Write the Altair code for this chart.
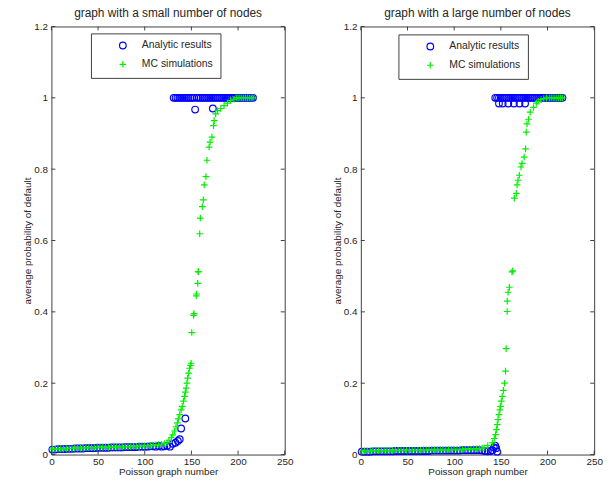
import altair as alt
import pandas as pd

# ---------------- data ----------------
SERIES = ["Analytic results", "MC simulations"]

# graph with a small number of nodes
SMALL_ANALYTIC_X = [1, 4, 7, 10, 13, 16, 19, 22, 25, 28, 31, 34, 37, 40, 43, 46, 49, 52, 55, 58,
                    61, 64, 67, 70, 73, 76, 79, 82, 85, 88, 91, 94, 97, 100, 103, 106, 109, 112, 115, 118,
                    121, 124,
                    127, 130, 133, 135.5, 137.5, 139, 143.5,
                    131, 133, 135, 137, 139, 141, 143, 145, 147, 149, 151, 153, 154, 156, 158, 160,
                    162, 164, 166, 168, 170, 172, 173, 174, 176, 178, 180, 182, 184, 186, 188, 190,
                    192, 194, 196, 198, 200, 202, 204, 206, 208, 210, 212, 214, 216]
SMALL_ANALYTIC_Y = [0.014, 0.014, 0.015, 0.015, 0.015, 0.016, 0.016, 0.016, 0.017, 0.017, 0.017, 0.017,
                    0.018, 0.018, 0.018, 0.018, 0.019, 0.019, 0.019, 0.019, 0.019, 0.020, 0.020, 0.020,
                    0.020, 0.020, 0.021, 0.021, 0.021, 0.021, 0.021, 0.022, 0.022, 0.022, 0.022, 0.023,
                    0.023, 0.022, 0.024, 0.022, 0.023, 0.025,
                    0.022, 0.030, 0.033, 0.038, 0.043, 0.073, 0.101,
                    1.0, 1.0, 1.0, 1.0, 1.0, 1.0, 1.0, 1.0, 1.0, 1.0, 1.0, 1.0, 0.967, 1.0, 1.0, 1.0,
                    1.0, 1.0, 1.0, 1.0, 1.0, 1.0, 0.970, 1.0, 1.0, 1.0, 1.0, 1.0, 1.0, 1.0, 1.0, 1.0,
                    1.0, 1.0, 1.0, 1.0, 1.0, 1.0, 1.0, 1.0, 1.0, 1.0, 1.0, 1.0, 1.0]

SMALL_MC_X = [1, 4, 7, 10, 13, 16, 19, 22, 25, 28, 31, 34, 37, 40, 43, 46, 49, 52, 55, 58,
              61, 64, 67, 70, 73, 76, 79, 82, 85, 88, 91, 94, 97, 100, 103, 106, 109, 112, 115, 118,
              121, 124,
              126, 128.5, 130, 132, 133.5, 135, 136, 137.5, 139, 140.2, 141.5, 142.7, 143.5, 144.4,
              145.2, 146, 147, 148, 149, 149.7, 150.4, 152.3, 152.8, 155.2, 155.6, 156.8, 157.2,
              157.6, 158.9, 159.6, 161.7, 162.8, 163.8, 165.6, 166.7, 169, 170, 172, 173.7, 174.4,
              176, 178, 181.5, 185, 188.6, 192, 195.6, 198, 200, 202, 204, 206, 208, 210, 212,
              214, 216]
SMALL_MC_Y = [0.015, 0.015, 0.016, 0.016, 0.016, 0.017, 0.017, 0.017, 0.018, 0.018, 0.018, 0.018,
              0.019, 0.019, 0.019, 0.019, 0.020, 0.020, 0.020, 0.020, 0.020, 0.021, 0.021, 0.021,
              0.021, 0.022, 0.022, 0.022, 0.022, 0.023, 0.023, 0.023, 0.024, 0.024, 0.025, 0.025,
              0.026, 0.027, 0.028, 0.029, 0.031, 0.033,
              0.040, 0.047, 0.055, 0.066, 0.078, 0.089, 0.100, 0.112, 0.125, 0.135, 0.150, 0.163,
              0.175, 0.186, 0.200, 0.214, 0.228, 0.242, 0.250, 0.256, 0.342, 0.390, 0.395, 0.445,
              0.450, 0.480, 0.512, 0.513, 0.619, 0.663, 0.695, 0.714, 0.756, 0.779, 0.825, 0.862,
              0.876, 0.890, 0.922, 0.936,
              0.955, 0.964, 0.970, 0.978, 0.985, 0.992, 0.996, 1.0, 1.0, 1.0, 1.0, 1.0, 1.0, 1.0,
              1.0, 1.0, 1.0]

# graph with a large number of nodes
LARGE_ANALYTIC_X = [1, 4, 7, 10, 13, 16, 19, 22, 25, 28, 31, 34, 37, 40, 43, 46, 49, 52, 55, 58,
                    61, 64, 67, 70, 73, 76, 79, 82, 85, 88, 91, 94, 97, 100, 103, 106, 109, 112, 115,
                    118, 121, 124, 127, 130, 133, 136, 139,
                    141, 142.5, 144, 145, 146,
                    144, 146, 148, 150, 152, 154, 156, 158, 160, 162, 164, 166, 168, 170, 172, 174,
                    176, 178, 180, 182, 184, 186, 188, 190, 192, 194, 196, 198, 200, 202, 204, 206,
                    208, 210, 212, 214, 216,
                    148, 152, 158, 164, 170, 176]
LARGE_ANALYTIC_Y = [0.008, 0.008, 0.008, 0.008, 0.009, 0.009, 0.009, 0.009, 0.009, 0.009, 0.009,
                    0.009, 0.010, 0.010, 0.010, 0.010, 0.010, 0.010, 0.010, 0.010, 0.010, 0.010,
                    0.010, 0.010, 0.010, 0.011, 0.011, 0.011, 0.011, 0.011, 0.011, 0.011, 0.011,
                    0.011, 0.011, 0.011, 0.012, 0.012, 0.012, 0.012, 0.012, 0.012, 0.012, 0.011,
                    0.010, 0.009, 0.010,
                    0.012, 0.020, 0.025, 0.018, 0.008,
                    1.0, 1.0, 1.0, 1.0, 1.0, 1.0, 1.0, 1.0, 1.0, 1.0, 1.0, 1.0, 1.0, 1.0, 1.0, 1.0,
                    1.0, 1.0, 1.0, 1.0, 1.0, 1.0, 1.0, 1.0, 1.0, 1.0, 1.0, 1.0, 1.0, 1.0, 1.0, 1.0,
                    1.0, 1.0, 1.0, 1.0, 1.0,
                    0.984, 0.984, 0.984, 0.984, 0.984, 0.984]

LARGE_MC_X = [1, 4, 7, 10, 13, 16, 19, 22, 25, 28, 31, 34, 37, 40, 43, 46, 49, 52, 55, 58,
              61, 64, 67, 70, 73, 76, 79, 82, 85, 88, 91, 94, 97, 100, 103, 106, 109, 112, 115,
              118, 121, 124, 127, 130,
              132, 136, 140.9, 143, 144.4, 145.3, 146.2, 147, 148, 149, 149.7, 150.5, 151.5, 152.8,
              153.9, 155, 155.7, 156.8, 156.9, 157.8, 159.2, 162, 162.8, 164.5, 166.6, 167.4,
              168.4, 169.8, 171.6, 172.7, 175, 176.5, 177.2, 178, 179.7, 181.5, 185, 188, 190,
              193, 196, 199, 202, 204, 206, 208, 210, 212, 214, 216]
LARGE_MC_Y = [0.010, 0.010, 0.010, 0.010, 0.011, 0.011, 0.011, 0.011, 0.011, 0.011, 0.011, 0.011,
              0.012, 0.012, 0.012, 0.012, 0.012, 0.012, 0.012, 0.012, 0.012, 0.012, 0.013, 0.013,
              0.013, 0.013, 0.013, 0.013, 0.013, 0.013, 0.013, 0.014, 0.014, 0.014, 0.014, 0.014,
              0.014, 0.015, 0.015, 0.015, 0.016, 0.016, 0.017, 0.018,
              0.019, 0.025, 0.033, 0.045, 0.056, 0.070, 0.084, 0.098, 0.112, 0.125, 0.135, 0.150,
              0.163, 0.180, 0.200, 0.234, 0.297, 0.401, 0.430, 0.455, 0.469, 0.512, 0.515, 0.719,
              0.732, 0.756, 0.769, 0.783, 0.806, 0.816, 0.834, 0.857, 0.904, 0.927, 0.940, 0.960,
              0.973, 0.985, 0.990, 0.995, 0.998, 1.0, 1.0, 1.0, 1.0, 1.0, 1.0, 1.0, 1.0, 1.0]

X_TICKS = [0, 50, 100, 150, 200, 250]
Y_TICKS = [0, 0.2, 0.4, 0.6, 0.8, 1.0, 1.2]

# ---------------- style ----------------
FONT = "Liberation Sans"
INK = "#262626"
FRAME = "#404040"
W, H = 236, 433
TICK_LEN = 4
PLUS = "M-1,0L1,0M0,-1L0,1"


def table(ax, ay, mx, my):
    rows = [{"graph": x, "prob": y, "series": SERIES[0]} for x, y in zip(ax, ay)]
    rows += [{"graph": x, "prob": y, "series": SERIES[1]} for x, y in zip(mx, my)]
    return pd.DataFrame(rows)


x_scale = alt.Scale(domain=[0, 250], nice=False, zero=False)
y_scale = alt.Scale(domain=[0, 1.2], nice=False, zero=False)
x_axis = alt.Axis(title="Poisson graph number", values=X_TICKS, format="d")
y_axis = alt.Axis(title="average probability of default", values=Y_TICKS, format=".1~f")


def panel(df, title, legend_x, legend_y):
    legend = alt.Legend(
        title=None, orient="none", legendX=legend_x, legendY=legend_y,
        strokeColor=FRAME, fillColor="white", padding=7,
        symbolOffset=20, labelOffset=14, rowPadding=6,
        symbolSize=45, symbolStrokeWidth=1.2,
        labelFont=FONT, labelFontSize=10.5, labelColor=INK,
    )
    points = alt.Chart(df).mark_point(filled=False, size=45, strokeWidth=1.2, opacity=1).encode(
        x=alt.X("graph:Q", scale=x_scale, axis=x_axis),
        y=alt.Y("prob:Q", scale=y_scale, axis=y_axis),
        color=alt.Color("series:N", scale=alt.Scale(domain=SERIES, range=["#0000ff", "#00ee00"]),
                        legend=legend),
        shape=alt.Shape("series:N", scale=alt.Scale(domain=SERIES, range=["circle", PLUS]),
                        legend=legend),
    )

    # inward tick marks on all four sides of the box
    xt = pd.DataFrame({"graph": X_TICKS})
    yt = pd.DataFrame({"prob": Y_TICKS})
    rule = dict(color=FRAME, strokeWidth=1)
    bottom = alt.Chart(xt).mark_rule(**rule).encode(
        x=alt.X("graph:Q", scale=x_scale, axis=x_axis), y=alt.value(H), y2=alt.value(H - TICK_LEN))
    top = alt.Chart(xt).mark_rule(**rule).encode(
        x=alt.X("graph:Q", scale=x_scale, axis=x_axis), y=alt.value(0), y2=alt.value(TICK_LEN))
    left = alt.Chart(yt).mark_rule(**rule).encode(
        y=alt.Y("prob:Q", scale=y_scale, axis=y_axis), x=alt.value(0), x2=alt.value(TICK_LEN))
    right = alt.Chart(yt).mark_rule(**rule).encode(
        y=alt.Y("prob:Q", scale=y_scale, axis=y_axis), x=alt.value(W), x2=alt.value(W - TICK_LEN))

    return alt.layer(points, bottom, top, left, right).properties(
        width=W, height=H,
        title=alt.TitleParams(title, font=FONT, fontSize=12, fontWeight="normal", color=INK,
                              offset=2, frame="group"),
    )


small = panel(table(SMALL_ANALYTIC_X, SMALL_ANALYTIC_Y, SMALL_MC_X, SMALL_MC_Y),
              "graph with a small number of nodes", 40, 7)
large = panel(table(LARGE_ANALYTIC_X, LARGE_ANALYTIC_Y, LARGE_MC_X, LARGE_MC_Y),
              "graph with a large number of nodes", 38, 8)

chart = alt.hconcat(small, large, spacing=38).resolve_scale(
    color="independent", shape="independent"
).resolve_legend(
    color="independent", shape="independent"
).properties(
    padding={"left": 22, "top": 3, "right": 5, "bottom": 3},
).configure_view(
    stroke=FRAME, strokeWidth=1,
).configure_axis(
    grid=False, ticks=False, domain=False,
    labelFont=FONT, labelFontSize=10, labelColor=INK, labelPadding=4,
    labelFlush=False, labelOverlap=False,
    titleFont=FONT, titleFontSize=10, titleFontWeight="normal", titleColor=INK,
).configure_axisX(labelPadding=2, titlePadding=0).configure_axisY(titlePadding=1)

chart.save("out.html", embed_options={"renderer": "svg", "actions": False})
